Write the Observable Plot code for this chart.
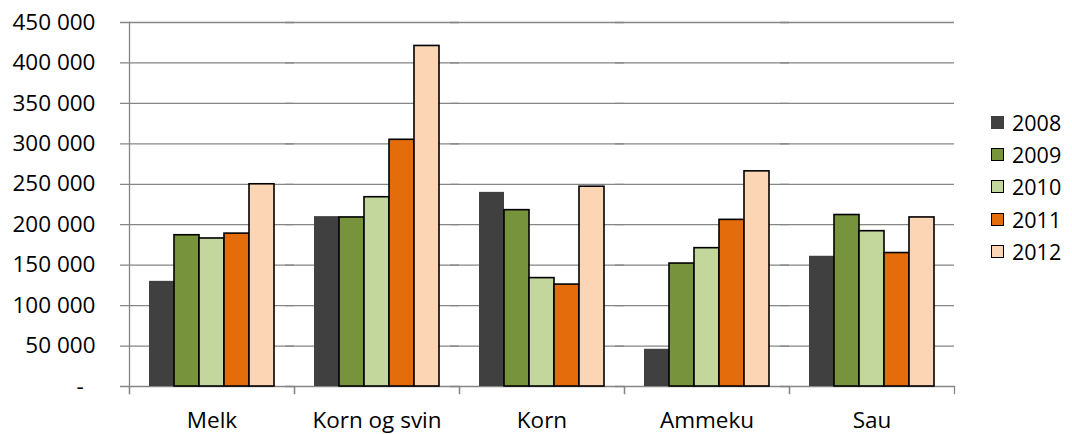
<!DOCTYPE html>
<html><head><meta charset="utf-8">
<script src="https://cdn.jsdelivr.net/npm/d3@7"></script>
<script src="https://cdn.jsdelivr.net/npm/@observablehq/plot@0.6"></script>
<style>
body{margin:0;background:#fff;font-family:"Open Sans",sans-serif;}
#wrap{position:relative;width:1072px;height:434px;overflow:hidden;}
#legend{position:absolute;left:991px;top:106px;}
.item{display:flex;align-items:center;height:32.4px;font-size:21.5px;color:#000;}
.sw{width:13px;height:13px;box-sizing:border-box;margin-right:8px;}
</style></head><body><div id="wrap"></div>
<script>
const categories = ["Melk","Korn og svin","Korn","Ammeku","Sau"];
const years = ["2008","2009","2010","2011","2012"];
const v2008 = [130000,210000,240000,46000,161000];
const v2009 = [187000,209000,218000,152000,212000];
const v2010 = [183000,234000,134000,171000,192000];
const v2011 = [189000,305000,126000,206000,165000];
const v2012 = [250000,421000,247000,266000,209000];
const colors = ["#404040","#77933C","#C3D69B","#E46C0A","#FCD5B5"];
const yTicks = [0,50000,100000,150000,200000,250000,300000,350000,400000,450000];

const series = [v2008,v2009,v2010,v2011,v2012];
const rows = [];
categories.forEach((c,i)=>years.forEach((y,j)=>rows.push({cat:c,year:y,value:series[j][i]})));

const fmt = d => d === 0 ? "-\u00a0\u00a0" : d3.format(",")(d).replace(/,/g," ");
const grid = "#868686";

const plot = Plot.plot({
  width: 975, height: 434,
  marginLeft: 128, marginRight: 20, marginTop: 22, marginBottom: 48,
  style: {fontFamily: "Open Sans", fontSize: "22.5px", color: "#000", background: "#fff"},
  fx: {domain: categories, padding: 0, label: null, tickSize: 0, tickPadding: 26, axis: "bottom"},
  x: {domain: years, paddingInner: 0, paddingOuter: 0.78, axis: null},
  y: {domain: [0, 450000], ticks: yTicks, tickFormat: fmt, tickSize: 0, tickPadding: 34, label: null},
  color: {domain: years, range: colors},
  marks: [
    Plot.ruleY(yTicks, {y: d => d, stroke: grid, strokeWidth: 1.3, insetLeft: -9}),
    Plot.frame({anchor: "left", facet: "super", stroke: grid, strokeWidth: 1.3, insetBottom: -7}),
    Plot.frame({anchor: "left", stroke: grid, strokeWidth: 1.3, insetTop: 364, insetBottom: -7}),
    Plot.frame({anchor: "right", stroke: grid, strokeWidth: 1.3, insetTop: 364, insetBottom: -7}),
    Plot.barY(rows, {filter: d => d.year === "2008", fx: "cat", x: "year", y: "value", fill: "year"}),
    Plot.barY(rows, {filter: d => d.year !== "2008", fx: "cat", x: "year", y: "value", fill: "year", stroke: "#000", strokeWidth: 1.6})
  ]
});
const wrap = document.getElementById("wrap");
wrap.appendChild(plot);

const legend = document.createElement("div");
legend.id = "legend";
years.forEach((y,j)=>{
  const it = document.createElement("div"); it.className = "item";
  const sw = document.createElement("div"); sw.className = "sw";
  sw.style.background = colors[j];
  if (j > 0) sw.style.border = "1.6px solid #000";
  const t = document.createElement("span"); t.textContent = y;
  it.appendChild(sw); it.appendChild(t); legend.appendChild(it);
});
wrap.appendChild(legend);
</script>
</body></html>
